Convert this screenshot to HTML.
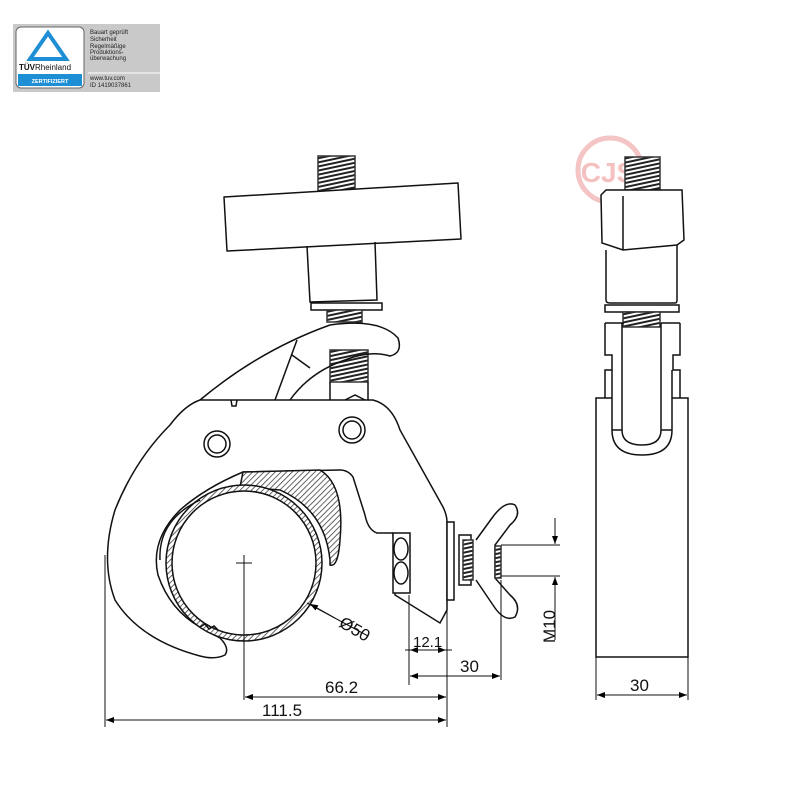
<!DOCTYPE html>
<html><head><meta charset="utf-8"><style>
html,body{margin:0;padding:0;background:#fff;}
svg{display:block;font-family:"Liberation Sans",sans-serif;}
</style></head><body>
<svg width="800" height="800" viewBox="0 0 800 800" xmlns="http://www.w3.org/2000/svg">
<defs>
<pattern id="h" width="4" height="4" patternUnits="userSpaceOnUse" patternTransform="rotate(45)"><rect width="4" height="4" fill="#fff"/><line x1="0" y1="0" x2="0" y2="4" stroke="#333" stroke-width="1.5"/></pattern>
<pattern id="t" width="6" height="4" patternUnits="userSpaceOnUse" patternTransform="rotate(-12)"><rect width="6" height="4" fill="#fff"/><line x1="0" y1="1" x2="6" y2="1" stroke="#222" stroke-width="2"/></pattern>
<marker id="a" markerWidth="8" markerHeight="6" refX="8" refY="3" orient="auto"><path d="M0,0 L8,3 L0,6z" fill="#000"/></marker>
</defs>
<!-- TUV badge -->
<rect x="13" y="24" width="147" height="68" fill="#c9c9c9"/>
<rect x="16" y="27" width="68" height="61" rx="5" fill="#fff" stroke="#666"/>
<path d="M48,33 L66,59 L30,59 Z" fill="none" stroke="#1e8fd5" stroke-width="4"/>
<text x="19" y="70" font-size="8" font-weight="bold" fill="#111">TÜV<tspan font-weight="normal">Rheinland</tspan></text>
<rect x="18" y="74" width="64" height="12" fill="#1e8fd5"/>
<text x="50" y="83" font-size="5.5" fill="#fff" text-anchor="middle" font-weight="bold">ZERTIFIZIERT</text>
<g font-size="6" fill="#222"><text x="90" y="34">Bauart geprüft</text><text x="90" y="41">Sicherheit</text><text x="90" y="48">Regelmäßige</text><text x="90" y="54">Produktions-</text><text x="90" y="60">überwachung</text><text x="90" y="80">www.tuv.com</text><text x="90" y="87">ID 1419037861</text></g>
<line x1="88" y1="73" x2="160" y2="73" stroke="#fff"/>
<!-- CJS watermark -->
<circle cx="610" cy="170" r="32" fill="none" stroke="#f5c4c4" stroke-width="5"/>
<text x="608" y="182" font-size="28" font-weight="bold" fill="#f5c0c0" text-anchor="middle">CJS</text>
<g fill="none" stroke="#111" stroke-width="1.5">
<!-- knob -->
<rect x="318" y="156" width="37" height="36" fill="url(#t)" stroke="#333"/>
<path d="M224,197 L458,183 L461,239 L227,251 Z" fill="#fff" stroke-linejoin="round"/>
<path d="M307,246 L310,302 L377,300 L375,242"/>
<rect x="311" y="303" width="71" height="7" fill="#fff"/>
<rect x="327" y="310" width="35" height="12" fill="url(#t)" stroke="#333"/>
<!-- upper jaw -->
<rect x="330" y="350" width="38" height="32" fill="url(#t)" stroke="#333"/>
<path d="M200,400 Q260,350 330,325 Q380,318 398,338 Q403,353 390,356 Q370,350 345,360 Q310,372 290,400"/>
<path d="M297,340 L275,400 M292,355 L310,368"/>
<path d="M330,382 L330,400 M368,382 L368,400 M345,400 L355,395 L365,400"/>
<!-- body -->
<path d="M200,400 L373,400 Q392,405 400,430 L443,507 Q447,515 447,522 L447,610 L440,623 L395,595 L393,533 L377,533 Q368,530 365,515 L353,477 Q348,470 340,470 L243,472 Q205,488 180,510 Q150,540 158,575 Q170,610 200,627 L220,638 Q230,648 225,655 Q215,660 200,656 Q140,640 115,600 Q100,560 115,510 Q135,460 170,425 Q185,405 200,400 Z" fill="#fff"/>
<path d="M231,400 L232,406 L236,406 L237,400"/>
<circle cx="217" cy="444" r="13"/><circle cx="217" cy="444" r="9"/>
<circle cx="352" cy="430" r="13"/><circle cx="352" cy="430" r="9"/>
<!-- pipe -->
<path d="M243,472 L320,470 Q345,485 340,540 Q338,568 330,565 L330,560 Q325,510 280,490 L240,487 Z" fill="url(#h)"/>
<circle cx="244" cy="563" r="78" fill="url(#h)"/>
<circle cx="244" cy="563" r="72" fill="#fff"/>
<path d="M160,560 Q158,520 200,500" />
<path d="M200,627 l5,-3 l4,5 l5,-3 l4,4"/>
<line x1="236" y1="563" x2="252" y2="563" stroke-width="1"/>
<line x1="244" y1="555" x2="244" y2="700" stroke-width="1"/>
<!-- nut -->
<rect x="393" y="533" width="17" height="60" fill="#fff"/>
<ellipse cx="401" cy="549" rx="7" ry="11"/><ellipse cx="401" cy="573" rx="7" ry="11"/>
<!-- washers and wing nut -->
<rect x="447" y="522" width="7" height="78" fill="#fff"/>
<rect x="459" y="535" width="12" height="50" fill="#fff"/>
<rect x="463" y="540" width="10" height="40" fill="url(#t)" stroke="#333"/>
<path d="M476,540 L492,518 Q505,500 515,505 Q522,515 510,525 L495,545 L495,578 L510,595 Q522,605 515,617 Q505,622 495,608 L476,580"/>
<rect x="495" y="546" width="6" height="32" fill="url(#t)" stroke="#333"/>
</g>
<!-- dimensions -->
<g stroke="#111" stroke-width="1" fill="none">
<line x1="501" y1="545" x2="560" y2="545"/><line x1="501" y1="576" x2="560" y2="576"/>
<line x1="555" y1="518" x2="555" y2="544" marker-end="url(#a)"/><line x1="555" y1="640" x2="555" y2="577" marker-end="url(#a)"/>
<line x1="307" y1="603" x2="368" y2="636"/><line x1="335" y1="618" x2="310" y2="604" marker-end="url(#a)"/>
<line x1="409" y1="595" x2="409" y2="685"/><line x1="447" y1="610" x2="447" y2="727"/>
<line x1="501" y1="580" x2="501" y2="680"/>
<line x1="420" y1="650" x2="410" y2="650" marker-end="url(#a)"/><line x1="435" y1="650" x2="446" y2="650" marker-end="url(#a)"/><line x1="405" y1="650" x2="452" y2="650"/>
<line x1="455" y1="676" x2="410" y2="676" marker-end="url(#a)"/><line x1="455" y1="676" x2="500" y2="676" marker-end="url(#a)"/>
<line x1="345" y1="697" x2="245" y2="697" marker-end="url(#a)"/><line x1="345" y1="697" x2="446" y2="697" marker-end="url(#a)"/>
<line x1="105" y1="555" x2="105" y2="727"/>
<line x1="280" y1="720" x2="106" y2="720" marker-end="url(#a)"/><line x1="280" y1="720" x2="446" y2="720" marker-end="url(#a)"/>
<line x1="596" y1="655" x2="596" y2="700"/><line x1="688" y1="655" x2="688" y2="700"/>
<line x1="642" y1="695" x2="597" y2="695" marker-end="url(#a)"/><line x1="642" y1="695" x2="687" y2="695" marker-end="url(#a)"/>
</g>
<g font-size="17" fill="#111">
<text x="413" y="647" font-size="15">12.1</text>
<text x="460" y="672">30</text>
<text x="325" y="693">66.2</text>
<text x="262" y="716">111.5</text>
<text x="630" y="691">30</text>
<text transform="translate(555,643) rotate(-90)">M10</text>
<text transform="translate(338,626) rotate(30)">Ø50</text>
</g>
<!-- side view -->
<g fill="none" stroke="#111" stroke-width="1.5">
<rect x="625" y="157" width="35" height="33" fill="url(#t)" stroke="#333"/>
<path d="M606,190 L682,190 L684,240 L677,245 L623,250 L602,243 L601,195 Z" fill="#fff"/>
<path d="M623,196 L623,250"/>
<path d="M606,250 L606,300 Q606,303 610,303 L675,303 Q677,303 677,300 L677,245"/>
<rect x="605" y="305" width="74" height="7" fill="#fff"/>
<rect x="623" y="312" width="37" height="15" fill="url(#t)" stroke="#333"/>
<path d="M612,398 L596,398 L596,657 L688,657 L688,398 L672,398"/>
<path d="M605,323 L605,355 L612,355 L612,370 L605,370 L605,398"/>
<path d="M680,323 L680,355 L673,355 L673,370 L680,370 L680,398"/>
<path d="M605,323 L624,323 M661,323 L680,323"/>
<path d="M612,370 L612,430 Q612,455 642,455 Q672,455 672,430 L672,370"/>
<path d="M622,323 L622,430 Q622,445 642,445 Q661,445 661,430 L661,323"/>
<path d="M612,430 L622,430 M661,430 L672,430"/>
</g>
</svg>
</body></html>
